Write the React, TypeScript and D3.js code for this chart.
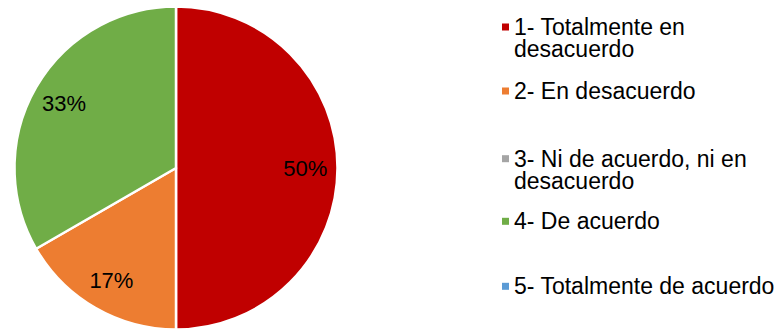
import React, { useEffect, useRef } from "react";
import * as d3 from "d3";

const categories = [
  "1- Totalmente en desacuerdo",
  "2- En desacuerdo",
  "3- Ni de acuerdo, ni en desacuerdo",
  "4- De acuerdo",
  "5- Totalmente de acuerdo",
];
const legendLines = [
  ["1- Totalmente en", "desacuerdo"],
  ["2- En desacuerdo"],
  ["3- Ni de acuerdo, ni en", "desacuerdo"],
  ["4- De acuerdo"],
  ["5- Totalmente de acuerdo"],
];
const values = [3, 1, 0, 2, 0];
const colors = ["#C00000", "#ED7D31", "#A5A5A5", "#70AD47", "#5B9BD5"];

const W = 778;
const H = 329;
const FONT = "'Liberation Sans', Arial, sans-serif";

export default function App() {
  const ref = useRef<SVGSVGElement>(null);

  useEffect(() => {
    const svg = d3.select(ref.current);
    svg.selectAll("*").remove();

    const cx = 176;
    const cy = 168;
    const r = 161.5;

    const total = d3.sum(values);
    const pie = d3
      .pie<number>()
      .sort(null)
      .value((d) => d)
      .startAngle(0)
      .endAngle(2 * Math.PI);
    const arcs = pie(values);
    const arc = d3.arc<d3.PieArcDatum<number>>().innerRadius(0).outerRadius(r);
    const labelArc = d3
      .arc<d3.PieArcDatum<number>>()
      .innerRadius(r * 0.8)
      .outerRadius(r * 0.8);

    const g = svg.append("g").attr("transform", `translate(${cx},${cy})`);
    g.selectAll("path")
      .data(arcs.filter((a) => a.value > 0))
      .join("path")
      .attr("d", arc)
      .attr("fill", (d) => colors[d.index])
      .attr("stroke", "#fff")
      .attr("stroke-width", 2.5)
      .attr("stroke-linejoin", "round");

    g.selectAll("text")
      .data(arcs.filter((a) => a.value > 0))
      .join("text")
      .attr("transform", (d) => {
        const [x, y] = labelArc.centroid(d);
        return `translate(${x},${y})`;
      })
      .attr("text-anchor", "middle")
      .attr("dy", "0.36em")
      .attr("font-family", FONT)
      .attr("font-size", 22)
      .attr("fill", "#000")
      .text((d) => `${Math.round((d.value / total) * 100)}%`);

    // legend
    const baselines = [35, 99, 166.7, 229.3, 294.3];
    const lineH = 22;
    const lg = svg.append("g");
    categories.forEach((c, i) => {
      const item = lg.append("g");
      item
        .append("rect")
        .attr("x", 502)
        .attr("y", baselines[i] - 11.5)
        .attr("width", 7)
        .attr("height", 7)
        .attr("fill", colors[i]);
      const t = item
        .append("text")
        .attr("x", 514)
        .attr("y", baselines[i])
        .attr("font-family", FONT)
        .attr("font-size", 23)
        .attr("fill", "#000");
      legendLines[i].forEach((ln, j) => {
        t.append("tspan")
          .attr("x", 514)
          .attr("y", baselines[i] + j * lineH)
          .text(ln);
      });
    });
  }, []);

  return (
    <div style={{ position: "absolute", left: 0, top: 0 }}>
      <svg ref={ref} width={W} height={H} style={{ display: "block", background: "#fff" }} />
    </div>
  );
}
